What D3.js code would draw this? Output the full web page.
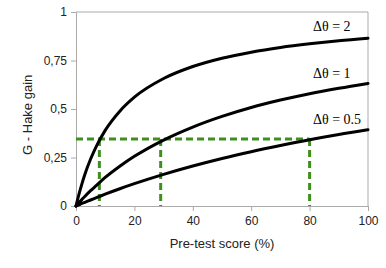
<!DOCTYPE html>
<html>
<head>
<meta charset="utf-8">
<script src="https://cdn.jsdelivr.net/npm/d3@7"></script>
<style>
  body { margin: 0; background: #fff; }
  text { font-family: "Liberation Sans", Arial, sans-serif; }
</style>
</head>
<body>
<script>
// pre-test score (%) sample points
let preScores = [0, 1, 2, 3, 5, 7, 10, 15, 20, 30, 40, 50, 60, 70, 80, 90, 100];
// gain
let gain2  = [0, 0.060, 0.113, 0.161, 0.242, 0.309, 0.390, 0.489, 0.561, 0.657, 0.719, 0.762, 0.793, 0.817, 0.836, 0.852, 0.865];
let gain1  = [0, 0.017, 0.033, 0.049, 0.079, 0.106, 0.147, 0.205, 0.256, 0.340, 0.407, 0.462, 0.508, 0.546, 0.579, 0.607, 0.632];
let gain05 = [0, 0.006, 0.013, 0.019, 0.031, 0.043, 0.061, 0.089, 0.115, 0.163, 0.206, 0.245, 0.280, 0.312, 0.342, 0.369, 0.393];
let curveLabels = ["Δθ = 2", "Δθ = 1", "Δθ = 0.5"];
let yTicks = [0, 0.25, 0.5, 0.75, 1];
let yTickLabels = ["0", "0,25", "0,5", "0,75", "1"];
let xTicks = [0, 20, 40, 60, 80, 100];
let guideGain = 0.345;
let guideScores = [8, 29, 80];

let width = 386, height = 268;
let margin = {l: 76, r: 18, t: 12, b: 62};

let svg = d3.select("body").append("svg")
            .attr("width", width)
            .attr("height", height);

let x = d3.scaleLinear().domain([0, 100]).range([margin.l, width - margin.r]);
let y = d3.scaleLinear().domain([0, 1]).range([height - margin.b, margin.t]);

// frame: top and right edges
svg.append("path")
   .attr("d", `M${x(0)},${y(1)}H${x(100)}V${y(0)}`)
   .attr("fill", "none")
   .attr("stroke", "#aaa")
   .attr("stroke-width", 1);

let yAxis = svg.append("g")
   .attr("transform", `translate(${x(0)},0)`)
   .call(d3.axisLeft(y).tickValues(yTicks).tickFormat((d, i) => yTickLabels[i]).tickSize(5).tickPadding(4));

let xAxis = svg.append("g")
   .attr("transform", `translate(0,${y(0)})`)
   .call(d3.axisBottom(x).tickValues(xTicks).tickSize(5).tickPadding(5));

[yAxis, xAxis].forEach(a => {
  a.selectAll("path, line").attr("stroke", "#aaa");
  a.selectAll("text").attr("fill", "#222").style("font-size", "12px")
   .style("font-family", "'Liberation Sans', Arial, sans-serif");
});

// green guide lines
let green = "#3f8f1c";
svg.append("line")
   .attr("x1", x(0)).attr("x2", x(80))
   .attr("y1", y(guideGain)).attr("y2", y(guideGain))
   .attr("stroke", green).attr("stroke-width", 3).attr("stroke-dasharray", "7,4");

svg.selectAll(".guide")
   .data(guideScores)
   .enter()
   .append("line")
   .attr("class", "guide")
   .attr("x1", d => x(d)).attr("x2", d => x(d))
   .attr("y1", y(guideGain)).attr("y2", y(0))
   .attr("stroke", green).attr("stroke-width", 3).attr("stroke-dasharray", "7,4");

// curves
let line = d3.line()
             .x((d, i) => x(preScores[i]))
             .y(d => y(d))
             .curve(d3.curveMonotoneX);

svg.selectAll(".curve")
   .data([gain2, gain1, gain05])
   .enter()
   .append("path")
   .attr("class", "curve")
   .attr("d", line)
   .attr("fill", "none")
   .attr("stroke", "#000")
   .attr("stroke-width", 3)
   .attr("stroke-linecap", "round");

// curve labels
svg.selectAll(".lbl")
   .data(curveLabels)
   .enter()
   .append("text")
   .attr("class", "lbl")
   .attr("x", 313)
   .attr("y", (d, i) => [31, 78, 124][i])
   .style("font-family", "'Liberation Serif', 'DejaVu Serif', serif")
   .style("font-size", "14px")
   .attr("fill", "#000")
   .text(d => d);

// axis titles
svg.append("text")
   .attr("x", x(50))
   .attr("y", 248)
   .attr("text-anchor", "middle")
   .style("font-size", "13px")
   .attr("fill", "#222")
   .text("Pre-test score (%)");

svg.append("text")
   .attr("transform", `translate(32,${y(0.47)}) rotate(-90)`)
   .attr("text-anchor", "middle")
   .style("font-size", "13px")
   .attr("fill", "#222")
   .text("G - Hake gain");
</script>
</body>
</html>
